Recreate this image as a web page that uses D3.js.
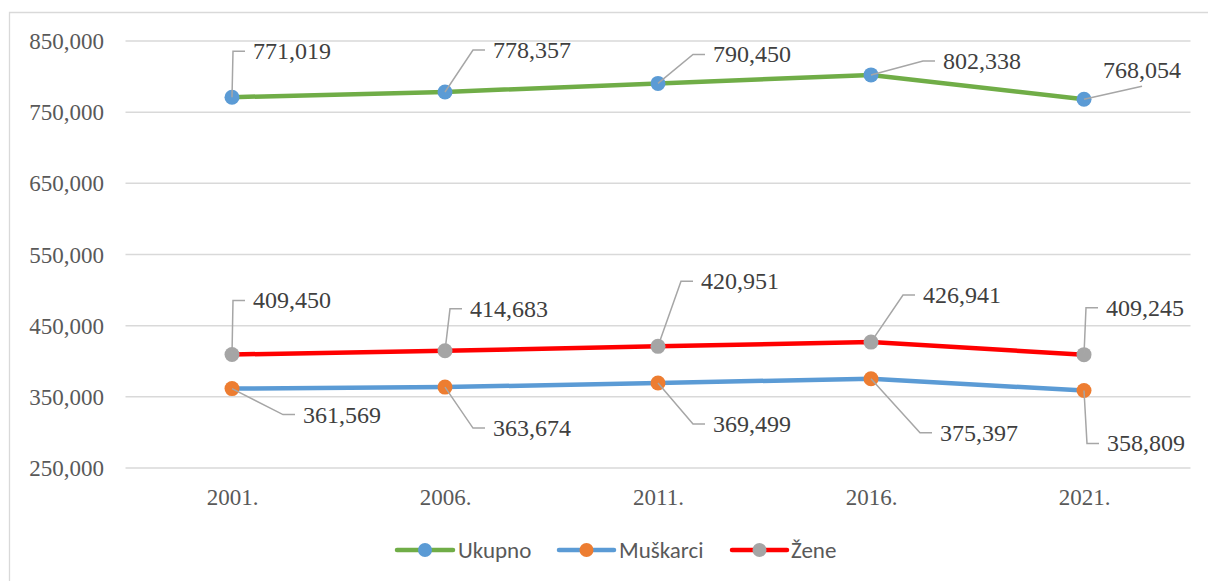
<!DOCTYPE html>
<html>
<head>
<meta charset="utf-8">
<script src="https://cdn.jsdelivr.net/npm/d3@7"></script>
<style>
  html, body { margin: 0; padding: 0; background: #fff; }
  svg { display: block; }
</style>
</head>
<body>
<svg id="chart" width="1208" height="581"></svg>
<script>
// ---- data ----
const years = ["2001.", "2006.", "2011.", "2016.", "2021."];
const ukupno = [771019, 778357, 790450, 802338, 768054];
const muskarci = [361569, 363674, 369499, 375397, 358809];
const zene = [409450, 414683, 420951, 426941, 409245];
const seriesNames = ["Ukupno", "Muškarci", "Žene"];
const yTicks = [250000, 350000, 450000, 550000, 650000, 750000, 850000];

// ---- styling / layout ----
const lineColors = ["#70ad47", "#5b9bd5", "#ff0000"];
const markerColors = ["#5b9bd5", "#ed7d31", "#a5a5a5"];
// label offsets (text left / vertical centre relative to the point)
const labelOffsets = [
  [[21, -46], [48, -42], [55, -29], [72, -14], [19, -29, "bottom"]],
  [[71, 26], [48, 41], [55, 41], [69, 54], [23, 53]],
  [[21, -54], [25, -42], [43, -65], [52, -47], [22, -47]]
];
const SERIF = '"Liberation Serif"';
const SANS = '"Carlito"';

const svg = d3.select("#chart");
const W = 1208, H = 581;

// chart area border (top & left visible)
svg.append("path")
  .attr("d", `M9.5,${H + 5} L9.5,12.5 L${W + 5},12.5`)
  .attr("fill", "none").attr("stroke", "#d9d9d9").attr("stroke-width", 1.3);

const x = d3.scalePoint().domain(years).range([125.5, 1190.5]).padding(0.5);
const y = d3.scaleLinear().domain([250000, 850000]).range([468, 41]);

// gridlines
svg.append("g").selectAll("line").data(yTicks).join("line")
  .attr("x1", 125.5).attr("x2", 1190.5)
  .attr("y1", d => y(d)).attr("y2", d => y(d))
  .attr("stroke", "#d9d9d9").attr("stroke-width", 1.5);

// y axis labels
const fmt = d3.format(",");
const yAxis = d3.axisLeft(y).tickValues(yTicks).tickFormat(fmt).tickSize(0).tickPadding(0);
const yg = svg.append("g").attr("transform", "translate(104,0)").call(yAxis);
yg.select(".domain").remove();
yg.selectAll("text")
  .style("font-family", SERIF).style("font-size", "23px").attr("fill", "#595959")
  .attr("dy", "0.33em");

// x axis labels
const xAxis = d3.axisBottom(x).tickSize(0).tickPadding(0);
const xg = svg.append("g").attr("transform", "translate(0,497)").call(xAxis);
xg.select(".domain").remove();
xg.selectAll("text")
  .style("font-family", SERIF).style("font-size", "23px").attr("fill", "#595959")
  .attr("dy", "0.33em");

const allSeries = [ukupno, muskarci, zene];
const line = d3.line().x((d, i) => x(years[i])).y(d => y(d));

allSeries.forEach((vals, s) => {
  svg.append("path").datum(vals)
    .attr("d", line).attr("fill", "none")
    .attr("stroke", lineColors[s]).attr("stroke-width", 4.5)
    .attr("stroke-linejoin", "round").attr("stroke-linecap", "round");
});

// markers
allSeries.forEach((vals, s) => {
  svg.append("g").selectAll("circle").data(vals).join("circle")
    .attr("cx", (d, i) => x(years[i])).attr("cy", d => y(d))
    .attr("r", 7.5).attr("fill", markerColors[s]);
});

// leaders and labels
allSeries.forEach((vals, s) => {
  const g = svg.append("g");
  vals.forEach((v, i) => {
    const px = x(years[i]), py = y(v);
    const off = labelOffsets[s][i];
    const tx = px + off[0], ty = py + off[1];
    const label = g.append("text")
      .attr("x", tx).attr("y", ty).attr("dy", "0.33em")
      .style("font-family", SERIF).style("font-size", "24px").attr("fill", "#404040")
      .text(fmt(v));
    let d;
    if (off[2] === "bottom") {
      const w = label.node().getComputedTextLength();
      d = `M${px},${py} L${tx + w / 2},${ty + 16}`;
    } else {
      d = `M${px},${py} L${tx - 20},${ty} L${tx - 8},${ty}`;
    }
    g.insert("path", "text").attr("d", d).attr("fill", "none")
      .attr("stroke", "#a6a6a6").attr("stroke-width", 1.5);
  });
});

// legend
const legendItems = [
  {x0: 397, x1: 453, tx: 458},
  {x0: 559, x1: 614, tx: 619},
  {x0: 732, x1: 787, tx: 791}
];
const lg = svg.append("g");
seriesNames.forEach((name, s) => {
  const it = legendItems[s];
  lg.append("line").attr("x1", it.x0).attr("x2", it.x1).attr("y1", 550).attr("y2", 550)
    .attr("stroke", lineColors[s]).attr("stroke-width", 4.5).attr("stroke-linecap", "round");
  lg.append("circle").attr("cx", (it.x0 + it.x1) / 2).attr("cy", 550).attr("r", 7)
    .attr("fill", markerColors[s]);
  lg.append("text").attr("x", it.tx).attr("y", 550).attr("dy", "0.35em")
    .style("font-family", SANS).style("font-size", "23px").attr("fill", "#595959")
    .text(name);
});
</script>
</body>
</html>
